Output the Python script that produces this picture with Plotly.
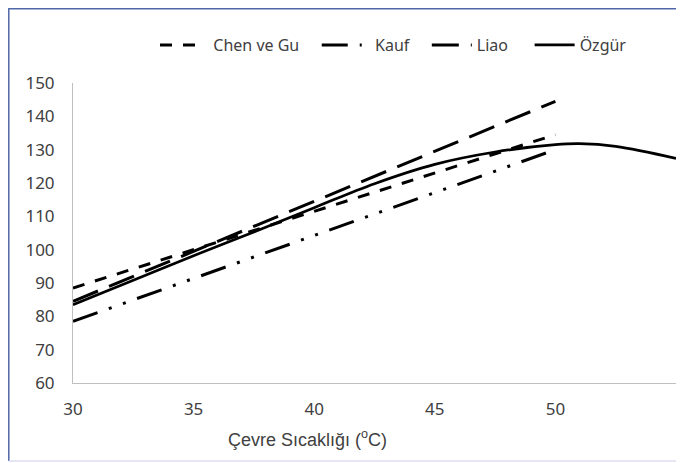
import plotly.graph_objects as go

# Data
chen_x = [30, 50]
chen_y = [88.5, 134.5]
kauf_x = [30, 50]
kauf_y = [78.5, 130.0]
liao_x = [30, 50]
liao_y = [84.5, 144.5]
ozgur_x = [30, 32.5, 35, 37.5, 40, 42.5, 45, 47.5, 50, 51, 52.5, 55]
ozgur_y = [83.5, 90.8, 98.2, 105.3, 112.6, 119.8, 125.6, 129.3, 131.5, 131.8, 131.0, 127.4]

x_ticks = [30, 35, 40, 45, 50, 55]
y_ticks = [60, 70, 80, 90, 100, 110, 120, 130, 140, 150]

NB = "\u00a0"
fig = go.Figure()
fig.add_trace(go.Scatter(x=chen_x, y=chen_y, mode="lines", name=NB * 2 + "Chen ve Gu" + NB * 3,
                         line=dict(color="black", width=3, dash="12px,11px")))
fig.add_trace(go.Scatter(x=kauf_x, y=kauf_y, mode="lines", name=NB * 2 + "Kauf" + NB * 3,
                         line=dict(color="black", width=3, dash="26px,12px,3px,12px,3px,12px")))
fig.add_trace(go.Scatter(x=liao_x, y=liao_y, mode="lines", name="Liao" + NB * 4,
                         line=dict(color="black", width=3, dash="27px,12px")))
fig.add_trace(go.Scatter(x=ozgur_x, y=ozgur_y, mode="lines", name="Özgür",
                         line=dict(color="black", width=2.7, shape="spline")))

# page has an 8px body margin; figure occupies screen (8..684, 8..463)
OFF = 8
W, H = 684 - OFF, 463 - OFF
L, R, T, B = 73 - OFF, 684 - 676, 83 - OFF, 463 - 383
pw = W - L - R
ph = H - T - B

def px(X):
    return (X - OFF - L) / pw

def py(Y):
    return (H - B - (Y - OFF)) / ph

fig.update_layout(
    width=W, height=H,
    margin=dict(l=L, r=R, t=T, b=B, autoexpand=False),
    paper_bgcolor="white", plot_bgcolor="white",
    font=dict(family="Noto Sans", color="#404040"),
    showlegend=True,
    legend=dict(orientation="h", x=px(155), xanchor="left", y=py(45), yanchor="middle",
                font=dict(size=16, color="#404040"), bgcolor="rgba(0,0,0,0)",
                itemwidth=40),
    xaxis=dict(range=[30, 55], tickvals=x_ticks, showgrid=False, zeroline=False,
               showline=True, linecolor="#bfbfbf", linewidth=1, ticks="",
               automargin=False,
               tickfont=dict(size=17, color="#404040"), ticklabelstandoff=11),
    yaxis=dict(range=[60, 150], tickvals=y_ticks, showgrid=False, zeroline=False,
               showline=True, linecolor="#bfbfbf", linewidth=1, ticks="",
               automargin=False,
               tickfont=dict(size=17, color="#404040"), ticklabelstandoff=14),
    annotations=[
        dict(text="Çevre Sıcaklığı (<sup>o</sup>C)", xref="paper", yref="paper",
             x=px(307), y=py(438), xanchor="center", yanchor="middle", showarrow=False,
             font=dict(family="Liberation Sans", size=18, color="#404040")),
    ],
    shapes=[
        dict(type="path", xref="paper", yref="paper",
             path=f"M {px(8.8)} {py(461)} L {px(8.8)} {py(8.8)} L {px(690)} {py(8.8)}",
             line=dict(color="#5068a8", width=1.5)),
        dict(type="line", xref="paper", yref="paper",
             x0=px(8.8), x1=px(690), y0=py(461), y1=py(461),
             line=dict(color="#dcdcef", width=1.5)),
    ],
)

fig.write_html("out.html")
